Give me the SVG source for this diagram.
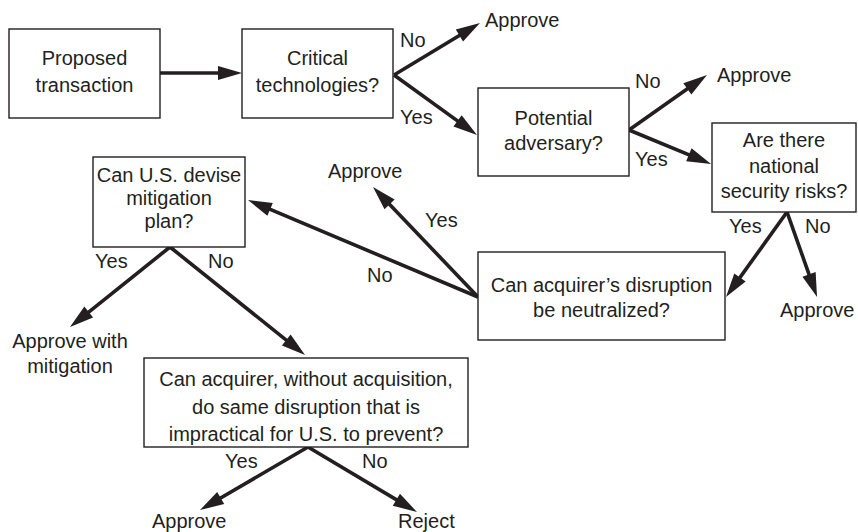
<svg xmlns="http://www.w3.org/2000/svg" width="858" height="532" viewBox="0 0 858 532">
<style>
.box{fill:#fff;stroke:#231f20;stroke-width:1.4}
text{font-family:"Liberation Sans",Arial,sans-serif;font-size:20px;fill:#231f20}
.c{text-anchor:middle}
.conn{stroke:#231f20;stroke-width:3.6;fill:none;marker-end:url(#ah)}
</style>
<defs>
<marker id="ah" markerUnits="userSpaceOnUse" markerWidth="26" markerHeight="16" refX="14" refY="7" orient="auto" overflow="visible">
<path d="M0,0 L24,7 L0,14 z" fill="#231f20"/>
</marker>
</defs>
<rect width="858" height="532" fill="#fff"/>
<g id="connectors">
<line class="conn" x1="160" y1="73" x2="232" y2="73"/>
<line class="conn" x1="394" y1="75" x2="471.4" y2="28.2"/>
<line class="conn" x1="394" y1="75" x2="468.9" y2="129.1"/>
<line class="conn" x1="629" y1="130" x2="698.8" y2="80.8"/>
<line class="conn" x1="629" y1="130" x2="701.8" y2="160.2"/>
<line class="conn" x1="787" y1="212" x2="731.8" y2="288.9"/>
<line class="conn" x1="787" y1="212" x2="813.7" y2="287.6"/>
<line class="conn" x1="478" y1="297" x2="257.2" y2="203.9"/>
<line class="conn" x1="478" y1="297" x2="379.9" y2="194.2"/>
<line class="conn" x1="170" y1="247" x2="77.8" y2="320.8"/>
<line class="conn" x1="170" y1="247" x2="297.2" y2="348.8"/>
<line class="conn" x1="308" y1="447" x2="208.6" y2="505"/>
<line class="conn" x1="308" y1="447" x2="408.4" y2="506.9"/>
</g>
<g id="labels">
<text x="400" y="47">No</text>
<text x="400" y="124">Yes</text>
<text x="635" y="88">No</text>
<text x="635" y="166">Yes</text>
<text x="729" y="233">Yes</text>
<text x="805" y="233">No</text>
<text x="425" y="227">Yes</text>
<text x="367" y="282">No</text>
<text x="95" y="268">Yes</text>
<text x="208" y="268">No</text>
<text x="225" y="468">Yes</text>
<text x="362" y="468">No</text>
</g>
<g id="n-proposed">
<rect class="box" x="9" y="29" width="151" height="89"/>
<text class="c" x="84.5" y="65">Proposed</text>
<text class="c" x="84.5" y="92">transaction</text>
</g>
<g id="n-critical">
<rect class="box" x="242" y="29" width="151" height="89"/>
<text class="c" x="317.5" y="65">Critical</text>
<text class="c" x="317.5" y="92">technologies?</text>
</g>
<g id="n-approve1"><text x="485" y="27">Approve</text></g>
<g id="n-adversary">
<rect class="box" x="478" y="88" width="151" height="88"/>
<text class="c" x="553.5" y="125">Potential</text>
<text class="c" x="553.5" y="150">adversary?</text>
</g>
<g id="n-approve2"><text x="717" y="82">Approve</text></g>
<g id="n-risks">
<rect class="box" x="712" y="123" width="144" height="89"/>
<text class="c" x="784" y="147">Are there</text>
<text class="c" x="784" y="173">national</text>
<text class="c" x="784" y="198">security risks?</text>
</g>
<g id="n-approve3"><text x="780" y="317">Approve</text></g>
<g id="n-neutralized">
<rect class="box" x="478" y="252" width="247" height="88"/>
<text class="c" x="601.5" y="292">Can acquirer’s disruption</text>
<text class="c" x="601.5" y="317">be neutralized?</text>
</g>
<g id="n-approve4"><text x="328" y="178">Approve</text></g>
<g id="n-mitigation">
<rect class="box" x="93" y="157" width="152" height="90"/>
<text class="c" x="169" y="182">Can U.S. devise</text>
<text class="c" x="169" y="205">mitigation</text>
<text class="c" x="169" y="228">plan?</text>
</g>
<g id="n-approve-mit">
<text class="c" x="70" y="348">Approve with</text>
<text class="c" x="70" y="373">mitigation</text>
</g>
<g id="n-without">
<rect class="box" x="144" y="358" width="324" height="89"/>
<text class="c" x="306" y="386">Can acquirer, without acquisition,</text>
<text class="c" x="306" y="414">do same disruption that is</text>
<text class="c" x="306" y="441">impractical for U.S. to prevent?</text>
</g>
<g id="n-approve5"><text x="152" y="528">Approve</text></g>
<g id="n-reject"><text x="398" y="528">Reject</text></g>
</svg>
